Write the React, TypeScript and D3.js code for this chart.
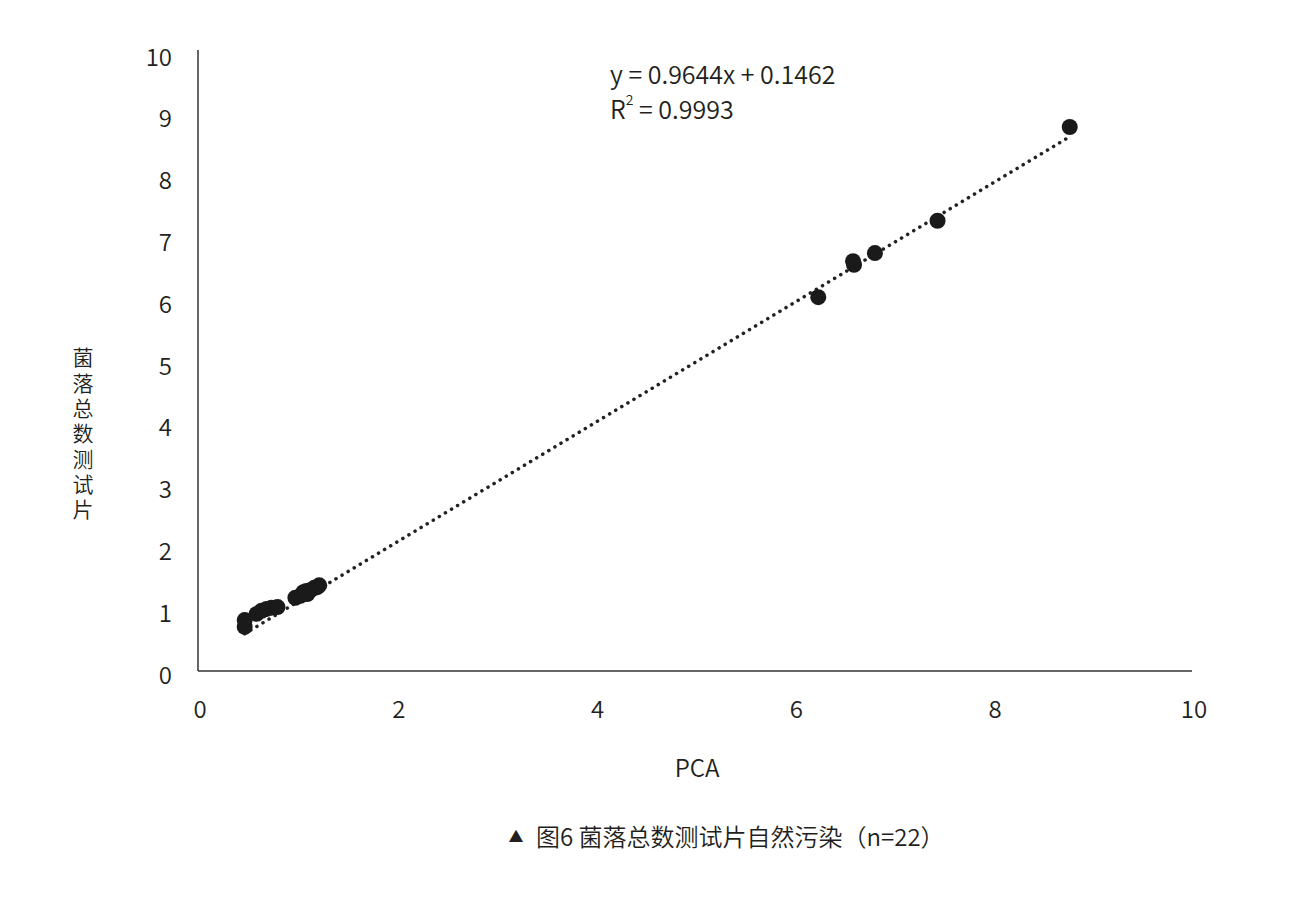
import React from "react";
import * as d3 from "d3";

const pcaValues = [0.47, 0.47, 0.59, 0.64, 0.69, 0.74, 0.8, 0.98, 1.03, 1.06, 1.1, 1.13, 1.17, 1.2, 1.22, 1.09, 6.24, 6.59, 6.6, 6.81, 7.44, 8.77];
const filmValues = [0.71, 0.82, 0.92, 0.97, 1.0, 1.02, 1.03, 1.18, 1.21, 1.27, 1.24, 1.3, 1.34, 1.35, 1.38, 1.29, 6.02, 6.6, 6.54, 6.73, 7.25, 8.76];
const xTicks = [0, 2, 4, 6, 8, 10];
const yTicks = [0, 1, 2, 3, 4, 5, 6, 7, 8, 9, 10];
const slope = 0.9644;
const intercept = 0.1462;
const equationText = "y = 0.9644x + 0.1462";
const r2Text = " = 0.9993";
const yAxisTitle = "菌落总数测试片";
const xAxisTitle = "PCA";
const captionMark = "▲";
const caption = "图6 菌落总数测试片自然污染（n=22）";

const FONT = "'Noto Sans CJK SC', 'Noto Sans', sans-serif";
const TEXT = "#231f20";

export default function App() {
  const W = 1300, H = 900;
  const x = d3.scaleLinear().domain([0, 10]).range([198, 1192]);
  const y = d3.scaleLinear().domain([0, 10]).range([671, 50]);
  const yLabel = d3.scaleLinear().domain([0, 10]).range([673, 55]);
  const [xmin, xmax] = d3.extent(pcaValues) as [number, number];
  const line = d3.line<number>().x((d) => x(d)).y((d) => y(slope * d + intercept));

  return (
    <svg width={W} height={H} style={{ position: "absolute", left: 0, top: 0, background: "#fff" }} fontFamily={FONT} fontWeight={350}>
      <rect width={W} height={H} fill="#fff" />
      <line x1={x(0)} x2={x(0)} y1={y(10)} y2={y(0)} stroke="#333" strokeWidth={1.5} />
      <line x1={x(0)} x2={x(10)} y1={y(0)} y2={y(0)} stroke="#333" strokeWidth={1.5} />
      {yTicks.map((t) => (
        <text key={"y" + t} x={172} y={yLabel(t)} textAnchor="end" dominantBaseline="central" fontSize={24} fill={TEXT}>
          {t}
        </text>
      ))}
      {xTicks.map((t) => (
        <text key={"x" + t} x={x(t) + 2} y={707} textAnchor="middle" dominantBaseline="central" fontSize={24} fill={TEXT}>
          {t}
        </text>
      ))}
      <path d={line([xmin, xmax]) || ""} fill="none" stroke="#222" strokeWidth={3.5} strokeDasharray="0.1 7" strokeLinecap="round" />
      {pcaValues.map((v, i) => (
        <circle key={i} cx={x(v)} cy={y(filmValues[i])} r={8} fill="#1a1a1a" />
      ))}
      <text x={610} y={73} dominantBaseline="central" fontSize={25} fill={TEXT}>{equationText}</text>
      <text x={610} y={108} dominantBaseline="central" fontSize={25} fill={TEXT}>
        R<tspan dy={-9} fontSize={14}>2</tspan><tspan dy={9}>{r2Text}</tspan>
      </text>
      <text x={83} y={347} fontSize={21} fill={TEXT} style={{ writingMode: "vertical-rl", letterSpacing: "4.3px" }}>
        {yAxisTitle}
      </text>
      <text x={697} y={766} textAnchor="middle" dominantBaseline="central" fontSize={24} fill={TEXT}>{xAxisTitle}</text>
      <text x={516} y={835} textAnchor="middle" dominantBaseline="central" fontSize={15} fill={TEXT}>{captionMark}</text>
      <text x={536} y={835} dominantBaseline="central" fontSize={24} fill={TEXT}>{caption}</text>
    </svg>
  );
}
